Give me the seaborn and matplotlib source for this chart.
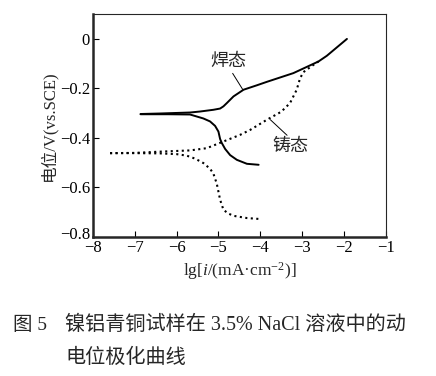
import numpy as np
import pandas as pd
import matplotlib
matplotlib.use("Agg")
import matplotlib.pyplot as plt
import matplotlib.transforms as mtransforms
import seaborn as sns

# 焊态 (welded) - solid
weld_anodic_x = [-6.86, -6.4, -5.68, -5.44, -5.12, -4.96, -4.88, -4.80, -4.64, -4.40, -4.08, -3.84, -3.21, -2.61, -2.41, -1.93]
weld_anodic_y = [-0.304, -0.302, -0.298, -0.294, -0.287, -0.282, -0.273, -0.26, -0.233, -0.206, -0.188, -0.174, -0.139, -0.092, -0.069, -0.001]
weld_cath_x = [-6.86, -6.2, -5.68, -5.52, -5.36, -5.2, -5.08, -5.0, -4.96, -4.92, -4.84, -4.72, -4.56, -4.32, -4.04]
weld_cath_y = [-0.305, -0.305, -0.306, -0.314, -0.322, -0.334, -0.352, -0.375, -0.405, -0.421, -0.445, -0.47, -0.489, -0.505, -0.509]

# 铸态 (cast) - dotted
cast_anodic_x = [-7.59, -7.0, -6.4, -5.68, -5.28, -4.88, -4.48, -4.24, -3.84, -3.5, -3.29, -3.13, -3.05, -2.97, -2.89, -2.75, -2.61]
cast_anodic_y = [-0.462, -0.461, -0.456, -0.451, -0.442, -0.415, -0.388, -0.368, -0.327, -0.295, -0.26, -0.206, -0.16, -0.135, -0.125, -0.108, -0.092]
cast_cath_x = [-7.59, -7.0, -6.4, -6.0, -5.76, -5.56, -5.36, -5.20, -5.12, -5.04, -4.96, -4.88, -4.76, -4.64, -4.32, -4.0]
cast_cath_y = [-0.462, -0.462, -0.463, -0.466, -0.472, -0.484, -0.502, -0.525, -0.545, -0.585, -0.65, -0.691, -0.706, -0.715, -0.724, -0.728]

x_ticks = [-8, -7, -6, -5, -4, -3, -2, -1]
y_ticks = [0, -0.2, -0.4, -0.6, -0.8]

sns.set_style("ticks")
plt.rcParams['font.family'] = ['Liberation Serif', 'Noto Sans CJK SC']
plt.rcParams['mathtext.fontset'] = 'custom'
plt.rcParams['mathtext.rm'] = 'Liberation Serif'
plt.rcParams['mathtext.it'] = 'Liberation Serif:italic'

fig = plt.figure(figsize=(4.36, 3.76), dpi=100)
ax = fig.add_axes([0.213, 0.370, 0.672, 0.593])

curves = [
    (weld_anodic_x, weld_anodic_y, '-'),
    (weld_cath_x, weld_cath_y, '-'),
    (cast_anodic_x, cast_anodic_y, ':'),
    (cast_cath_x, cast_cath_y, ':'),
]
for xs, ys, ls in curves:
    sns.lineplot(x=xs, y=ys, ax=ax, sort=False, estimator=None, color='black',
                 linewidth=1.4 if ls == '-' else 1.5, linestyle=ls)

ax.set_xlim(-8, -1)
ax.set_ylim(-0.8, 0.1)
ax.set_xticks(x_ticks)
ax.set_yticks(y_ticks)
ax.set_xticklabels([f"{t}".replace('-', '\u2212') for t in x_ticks])
ax.set_yticklabels(["0" if t == 0 else f"{t:.1f}".replace('-', '\u2212') for t in y_ticks])
ax.tick_params(direction='in', length=4, width=0.8, labelsize=12, pad=2, colors='black')

# nudge the corner labels apart a little, as in the original
lab = ax.get_yticklabels()[-1]
lab.set_transform(lab.get_transform() + mtransforms.ScaledTranslation(0, 3 / 72, fig.dpi_scale_trans))

for side in ['left', 'bottom']:
    ax.spines[side].set_linewidth(1.8)
for side in ['top', 'right']:
    ax.spines[side].set_linewidth(0.8)

ax.set_ylabel("电位/V(vs.SCE)", fontsize=12, labelpad=2)
ax.set_xlabel(r"lg[$\mathit{i}$/(mA·cm$^{-2}$)]", fontsize=12.5, labelpad=3)

# annotations
ax.text(-4.76, -0.093, "焊态", fontsize=13, ha='center', va='center')
ax.plot([-4.66, -4.42], [-0.14, -0.205], color='black', linewidth=0.7)
ax.text(-3.29, -0.435, "铸态", fontsize=13, ha='center', va='center')
ax.plot([-3.76, -3.36], [-0.327, -0.39], color='black', linewidth=0.7)

fig.text(0.030, 0.135, "图 5", fontsize=14, ha='left', va='center')
fig.text(0.150, 0.135, "镍铝青铜试样在 3.5% NaCl 溶液中的动", fontsize=14.5, ha='left', va='center')
fig.text(0.150, 0.047, "电位极化曲线", fontsize=14.5, ha='left', va='center')

fig.savefig("out.png", dpi=100)
